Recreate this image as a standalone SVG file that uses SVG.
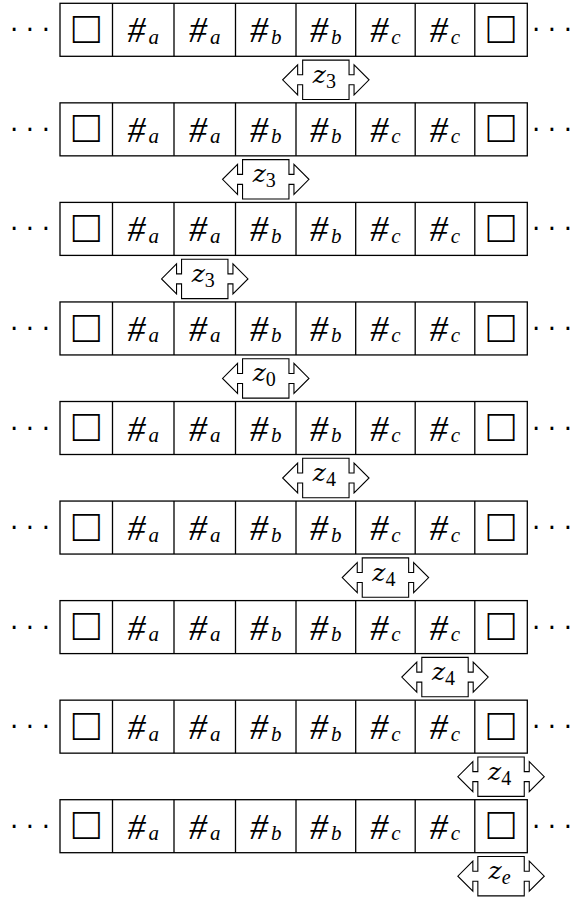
<svg xmlns="http://www.w3.org/2000/svg" width="573" height="897" viewBox="0 0 573 897">
  <style>
    .cell { fill: #fff; stroke: #000; stroke-width: 1.3; }
    .div { stroke: #000; stroke-width: 1.3; }
    .sym { font-family: "Liberation Serif", serif; font-size: 36px; font-style: italic; fill: #000; text-anchor: middle; }
    .sub { font-size: 21px; font-style: italic; }
    .blank { font-family: "Liberation Sans", sans-serif; font-size: 45px; fill: #000; text-anchor: middle; }
    .dots { font-family: "DejaVu Sans", sans-serif; font-size: 26px; fill: #000; }
    .arrowbox { fill: #fff; stroke: #000; stroke-width: 1.1; stroke-linejoin: miter; }
    .lbl { font-family: "DejaVu Serif", serif; font-size: 25px; font-style: italic; font-weight: 300; fill: #000; text-anchor: middle; }
    .lsub { font-family: "Liberation Serif", serif; font-size: 20px; font-style: normal; }
  </style>
  <defs>
    <!-- box with an arrow pointing out of each side -->
    <path id="abox" class="arrowbox" d="M -23.2,-19.7 H 23.2 V -5 H 28.2 V -15 L 43.2,0 L 28.2,15 V 5 H 23.2 V 19.7 H -23.2 V 5 H -28.2 V 15 L -43.2,0 L -28.2,-15 V -5 H -23.2 Z"/>
  </defs>
  <rect width="573" height="897" fill="#fff"/>

  <!-- tape row 1 -->
  <g id="row1" transform="translate(0,3.3)">
    <text class="dots" x="10" y="36" textLength="40" lengthAdjust="spacing">···</text>
    <rect class="cell" x="60" y="0" width="467.3" height="53"/>
    <path class="div" d="M112.5,0V53M174,0V53M235.5,0V53M296,0V53M355.7,0V53M415.2,0V53M474.8,0V53"/>
    <text class="blank" x="86.25" y="39.6">□</text>
    <text class="sym" x="143.25" y="39">#<tspan class="sub" dx="3" dy="1.5">a</tspan></text>
    <text class="sym" x="204.75" y="39">#<tspan class="sub" dx="3" dy="1.5">a</tspan></text>
    <text class="sym" x="265.75" y="39">#<tspan class="sub" dx="3" dy="1.5">b</tspan></text>
    <text class="sym" x="325.85" y="39">#<tspan class="sub" dx="3" dy="1.5">b</tspan></text>
    <text class="sym" x="385.45" y="39">#<tspan class="sub" dx="3" dy="1.5">c</tspan></text>
    <text class="sym" x="445" y="39">#<tspan class="sub" dx="3" dy="1.5">c</tspan></text>
    <text class="blank" x="501.05" y="39.6">□</text>
    <text class="dots" x="532" y="36" textLength="40" lengthAdjust="spacing">···</text>
  </g>
  <g id="head1" transform="translate(325.85,79.8)">
    <use href="#abox"/>
    <text class="lbl" x="-1.5" y="3">z<tspan class="lsub" dy="5">3</tspan></text>
  </g>

  <!-- tape row 2 -->
  <g id="row2" transform="translate(0,102.85)">
    <text class="dots" x="10" y="36" textLength="40" lengthAdjust="spacing">···</text>
    <rect class="cell" x="60" y="0" width="467.3" height="53"/>
    <path class="div" d="M112.5,0V53M174,0V53M235.5,0V53M296,0V53M355.7,0V53M415.2,0V53M474.8,0V53"/>
    <text class="blank" x="86.25" y="39.6">□</text>
    <text class="sym" x="143.25" y="39">#<tspan class="sub" dx="3" dy="1.5">a</tspan></text>
    <text class="sym" x="204.75" y="39">#<tspan class="sub" dx="3" dy="1.5">a</tspan></text>
    <text class="sym" x="265.75" y="39">#<tspan class="sub" dx="3" dy="1.5">b</tspan></text>
    <text class="sym" x="325.85" y="39">#<tspan class="sub" dx="3" dy="1.5">b</tspan></text>
    <text class="sym" x="385.45" y="39">#<tspan class="sub" dx="3" dy="1.5">c</tspan></text>
    <text class="sym" x="445" y="39">#<tspan class="sub" dx="3" dy="1.5">c</tspan></text>
    <text class="blank" x="501.05" y="39.6">□</text>
    <text class="dots" x="532" y="36" textLength="40" lengthAdjust="spacing">···</text>
  </g>
  <g id="head2" transform="translate(265.75,179.35)">
    <use href="#abox"/>
    <text class="lbl" x="-1.5" y="3">z<tspan class="lsub" dy="5">3</tspan></text>
  </g>

  <!-- tape row 3 -->
  <g id="row3" transform="translate(0,202.4)">
    <text class="dots" x="10" y="36" textLength="40" lengthAdjust="spacing">···</text>
    <rect class="cell" x="60" y="0" width="467.3" height="53"/>
    <path class="div" d="M112.5,0V53M174,0V53M235.5,0V53M296,0V53M355.7,0V53M415.2,0V53M474.8,0V53"/>
    <text class="blank" x="86.25" y="39.6">□</text>
    <text class="sym" x="143.25" y="39">#<tspan class="sub" dx="3" dy="1.5">a</tspan></text>
    <text class="sym" x="204.75" y="39">#<tspan class="sub" dx="3" dy="1.5">a</tspan></text>
    <text class="sym" x="265.75" y="39">#<tspan class="sub" dx="3" dy="1.5">b</tspan></text>
    <text class="sym" x="325.85" y="39">#<tspan class="sub" dx="3" dy="1.5">b</tspan></text>
    <text class="sym" x="385.45" y="39">#<tspan class="sub" dx="3" dy="1.5">c</tspan></text>
    <text class="sym" x="445" y="39">#<tspan class="sub" dx="3" dy="1.5">c</tspan></text>
    <text class="blank" x="501.05" y="39.6">□</text>
    <text class="dots" x="532" y="36" textLength="40" lengthAdjust="spacing">···</text>
  </g>
  <g id="head3" transform="translate(204.75,278.9)">
    <use href="#abox"/>
    <text class="lbl" x="-1.5" y="3">z<tspan class="lsub" dy="5">3</tspan></text>
  </g>

  <!-- tape row 4 -->
  <g id="row4" transform="translate(0,301.95)">
    <text class="dots" x="10" y="36" textLength="40" lengthAdjust="spacing">···</text>
    <rect class="cell" x="60" y="0" width="467.3" height="53"/>
    <path class="div" d="M112.5,0V53M174,0V53M235.5,0V53M296,0V53M355.7,0V53M415.2,0V53M474.8,0V53"/>
    <text class="blank" x="86.25" y="39.6">□</text>
    <text class="sym" x="143.25" y="39">#<tspan class="sub" dx="3" dy="1.5">a</tspan></text>
    <text class="sym" x="204.75" y="39">#<tspan class="sub" dx="3" dy="1.5">a</tspan></text>
    <text class="sym" x="265.75" y="39">#<tspan class="sub" dx="3" dy="1.5">b</tspan></text>
    <text class="sym" x="325.85" y="39">#<tspan class="sub" dx="3" dy="1.5">b</tspan></text>
    <text class="sym" x="385.45" y="39">#<tspan class="sub" dx="3" dy="1.5">c</tspan></text>
    <text class="sym" x="445" y="39">#<tspan class="sub" dx="3" dy="1.5">c</tspan></text>
    <text class="blank" x="501.05" y="39.6">□</text>
    <text class="dots" x="532" y="36" textLength="40" lengthAdjust="spacing">···</text>
  </g>
  <g id="head4" transform="translate(265.75,378.45)">
    <use href="#abox"/>
    <text class="lbl" x="-1.5" y="3">z<tspan class="lsub" dy="5">0</tspan></text>
  </g>

  <!-- tape row 5 -->
  <g id="row5" transform="translate(0,401.5)">
    <text class="dots" x="10" y="36" textLength="40" lengthAdjust="spacing">···</text>
    <rect class="cell" x="60" y="0" width="467.3" height="53"/>
    <path class="div" d="M112.5,0V53M174,0V53M235.5,0V53M296,0V53M355.7,0V53M415.2,0V53M474.8,0V53"/>
    <text class="blank" x="86.25" y="39.6">□</text>
    <text class="sym" x="143.25" y="39">#<tspan class="sub" dx="3" dy="1.5">a</tspan></text>
    <text class="sym" x="204.75" y="39">#<tspan class="sub" dx="3" dy="1.5">a</tspan></text>
    <text class="sym" x="265.75" y="39">#<tspan class="sub" dx="3" dy="1.5">b</tspan></text>
    <text class="sym" x="325.85" y="39">#<tspan class="sub" dx="3" dy="1.5">b</tspan></text>
    <text class="sym" x="385.45" y="39">#<tspan class="sub" dx="3" dy="1.5">c</tspan></text>
    <text class="sym" x="445" y="39">#<tspan class="sub" dx="3" dy="1.5">c</tspan></text>
    <text class="blank" x="501.05" y="39.6">□</text>
    <text class="dots" x="532" y="36" textLength="40" lengthAdjust="spacing">···</text>
  </g>
  <g id="head5" transform="translate(325.85,478)">
    <use href="#abox"/>
    <text class="lbl" x="-1.5" y="3">z<tspan class="lsub" dy="5">4</tspan></text>
  </g>

  <!-- tape row 6 -->
  <g id="row6" transform="translate(0,501.05)">
    <text class="dots" x="10" y="36" textLength="40" lengthAdjust="spacing">···</text>
    <rect class="cell" x="60" y="0" width="467.3" height="53"/>
    <path class="div" d="M112.5,0V53M174,0V53M235.5,0V53M296,0V53M355.7,0V53M415.2,0V53M474.8,0V53"/>
    <text class="blank" x="86.25" y="39.6">□</text>
    <text class="sym" x="143.25" y="39">#<tspan class="sub" dx="3" dy="1.5">a</tspan></text>
    <text class="sym" x="204.75" y="39">#<tspan class="sub" dx="3" dy="1.5">a</tspan></text>
    <text class="sym" x="265.75" y="39">#<tspan class="sub" dx="3" dy="1.5">b</tspan></text>
    <text class="sym" x="325.85" y="39">#<tspan class="sub" dx="3" dy="1.5">b</tspan></text>
    <text class="sym" x="385.45" y="39">#<tspan class="sub" dx="3" dy="1.5">c</tspan></text>
    <text class="sym" x="445" y="39">#<tspan class="sub" dx="3" dy="1.5">c</tspan></text>
    <text class="blank" x="501.05" y="39.6">□</text>
    <text class="dots" x="532" y="36" textLength="40" lengthAdjust="spacing">···</text>
  </g>
  <g id="head6" transform="translate(385.45,577.55)">
    <use href="#abox"/>
    <text class="lbl" x="-1.5" y="3">z<tspan class="lsub" dy="5">4</tspan></text>
  </g>

  <!-- tape row 7 -->
  <g id="row7" transform="translate(0,600.6)">
    <text class="dots" x="10" y="36" textLength="40" lengthAdjust="spacing">···</text>
    <rect class="cell" x="60" y="0" width="467.3" height="53"/>
    <path class="div" d="M112.5,0V53M174,0V53M235.5,0V53M296,0V53M355.7,0V53M415.2,0V53M474.8,0V53"/>
    <text class="blank" x="86.25" y="39.6">□</text>
    <text class="sym" x="143.25" y="39">#<tspan class="sub" dx="3" dy="1.5">a</tspan></text>
    <text class="sym" x="204.75" y="39">#<tspan class="sub" dx="3" dy="1.5">a</tspan></text>
    <text class="sym" x="265.75" y="39">#<tspan class="sub" dx="3" dy="1.5">b</tspan></text>
    <text class="sym" x="325.85" y="39">#<tspan class="sub" dx="3" dy="1.5">b</tspan></text>
    <text class="sym" x="385.45" y="39">#<tspan class="sub" dx="3" dy="1.5">c</tspan></text>
    <text class="sym" x="445" y="39">#<tspan class="sub" dx="3" dy="1.5">c</tspan></text>
    <text class="blank" x="501.05" y="39.6">□</text>
    <text class="dots" x="532" y="36" textLength="40" lengthAdjust="spacing">···</text>
  </g>
  <g id="head7" transform="translate(445,677.1)">
    <use href="#abox"/>
    <text class="lbl" x="-1.5" y="3">z<tspan class="lsub" dy="5">4</tspan></text>
  </g>

  <!-- tape row 8 -->
  <g id="row8" transform="translate(0,700.15)">
    <text class="dots" x="10" y="36" textLength="40" lengthAdjust="spacing">···</text>
    <rect class="cell" x="60" y="0" width="467.3" height="53"/>
    <path class="div" d="M112.5,0V53M174,0V53M235.5,0V53M296,0V53M355.7,0V53M415.2,0V53M474.8,0V53"/>
    <text class="blank" x="86.25" y="39.6">□</text>
    <text class="sym" x="143.25" y="39">#<tspan class="sub" dx="3" dy="1.5">a</tspan></text>
    <text class="sym" x="204.75" y="39">#<tspan class="sub" dx="3" dy="1.5">a</tspan></text>
    <text class="sym" x="265.75" y="39">#<tspan class="sub" dx="3" dy="1.5">b</tspan></text>
    <text class="sym" x="325.85" y="39">#<tspan class="sub" dx="3" dy="1.5">b</tspan></text>
    <text class="sym" x="385.45" y="39">#<tspan class="sub" dx="3" dy="1.5">c</tspan></text>
    <text class="sym" x="445" y="39">#<tspan class="sub" dx="3" dy="1.5">c</tspan></text>
    <text class="blank" x="501.05" y="39.6">□</text>
    <text class="dots" x="532" y="36" textLength="40" lengthAdjust="spacing">···</text>
  </g>
  <g id="head8" transform="translate(501.05,776.65)">
    <use href="#abox"/>
    <text class="lbl" x="-1.5" y="3">z<tspan class="lsub" dy="5">4</tspan></text>
  </g>

  <!-- tape row 9 -->
  <g id="row9" transform="translate(0,799.7)">
    <text class="dots" x="10" y="36" textLength="40" lengthAdjust="spacing">···</text>
    <rect class="cell" x="60" y="0" width="467.3" height="53"/>
    <path class="div" d="M112.5,0V53M174,0V53M235.5,0V53M296,0V53M355.7,0V53M415.2,0V53M474.8,0V53"/>
    <text class="blank" x="86.25" y="39.6">□</text>
    <text class="sym" x="143.25" y="39">#<tspan class="sub" dx="3" dy="1.5">a</tspan></text>
    <text class="sym" x="204.75" y="39">#<tspan class="sub" dx="3" dy="1.5">a</tspan></text>
    <text class="sym" x="265.75" y="39">#<tspan class="sub" dx="3" dy="1.5">b</tspan></text>
    <text class="sym" x="325.85" y="39">#<tspan class="sub" dx="3" dy="1.5">b</tspan></text>
    <text class="sym" x="385.45" y="39">#<tspan class="sub" dx="3" dy="1.5">c</tspan></text>
    <text class="sym" x="445" y="39">#<tspan class="sub" dx="3" dy="1.5">c</tspan></text>
    <text class="blank" x="501.05" y="39.6">□</text>
    <text class="dots" x="532" y="36" textLength="40" lengthAdjust="spacing">···</text>
  </g>
  <g id="head9" transform="translate(501.05,876.2)">
    <use href="#abox"/>
    <text class="lbl" x="-1.5" y="3">z<tspan class="lsub" dy="5" style="font-style:italic">e</tspan></text>
  </g>
</svg>
